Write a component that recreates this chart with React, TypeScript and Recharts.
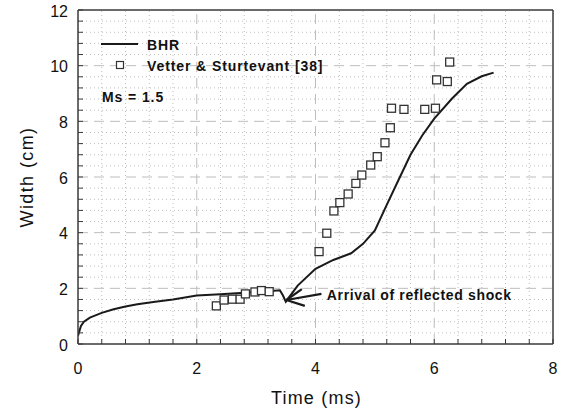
import React from "react";
import {
  ComposedChart,
  Line,
  Scatter,
  XAxis,
  YAxis,
  ReferenceLine,
  ReferenceDot,
} from "recharts";

// BHR model curve
const bhrTime = [0, 0.05, 0.1, 0.2, 0.4, 0.6, 0.8, 1.0, 1.3, 1.6, 2.0, 2.4, 2.8, 3.1, 3.4, 3.45, 3.5, 3.7, 4.0, 4.3, 4.6, 4.8, 5.0, 5.2, 5.4, 5.6, 5.8, 6.0, 6.3, 6.55, 6.8, 7.0];
const bhrWidth = [0.3, 0.65, 0.8, 0.95, 1.12, 1.25, 1.35, 1.43, 1.52, 1.6, 1.74, 1.79, 1.84, 1.88, 1.93, 1.75, 1.52, 2.1, 2.7, 3.02, 3.26, 3.6, 4.08, 5.0, 5.9, 6.8, 7.5, 8.1, 8.82, 9.35, 9.62, 9.75];

// Vetter & Sturtevant [38] measurements
const expTime = [2.33, 2.46, 2.6, 2.73, 2.82, 2.98, 3.09, 3.22, 4.06, 4.19, 4.31, 4.41, 4.55, 4.68, 4.78, 4.93, 5.04, 5.17, 5.26, 5.28, 5.49, 5.84, 6.02, 6.04, 6.22, 6.26];
const expWidth = [1.37, 1.58, 1.61, 1.61, 1.8, 1.87, 1.92, 1.88, 3.32, 3.98, 4.78, 5.08, 5.39, 5.77, 6.07, 6.43, 6.73, 7.23, 7.77, 8.47, 8.43, 8.43, 8.47, 9.49, 9.43, 10.13];

const xMajor = [0, 2, 4, 6, 8];
const yMajor = [0, 2, 4, 6, 8, 10, 12];
const xMinor = [0, 0.4, 0.8, 1.2, 1.6, 2, 2.4, 2.8, 3.2, 3.6, 4, 4.4, 4.8, 5.2, 5.6, 6, 6.4, 6.8, 7.2, 7.6, 8];
const yMinor = [0, 0.4, 0.8, 1.2, 1.6, 2, 2.4, 2.8, 3.2, 3.6, 4, 4.4, 4.8, 5.2, 5.6, 6, 6.4, 6.8, 7.2, 7.6, 8, 8.4, 8.8, 9.2, 9.6, 10, 10.4, 10.8, 11.2, 11.6, 12];

const bhrData = bhrTime.map((t, i) => ({ t, w: bhrWidth[i] }));
const expData = expTime.map((t, i) => ({ t, w: expWidth[i] }));

const FONT = "'Liberation Sans', Arial, sans-serif";
const AXIS = "#3a3a3a";
const GRID = "#bdbdbd";

const isMajor = (v: number, list: number[]) => list.includes(v);

function BottomTick({ x, y, payload }: any) {
  return (
    <g>
      <line x1={x} x2={x} y1={y} y2={y - 5} stroke={AXIS} strokeWidth={1} />
      {isMajor(payload.value, xMajor) && (
        <text x={x} y={y + 30} textAnchor="middle" fontSize={16} fontFamily={FONT} fill="#111">
          {payload.value}
        </text>
      )}
    </g>
  );
}

function TopTick({ x, y }: any) {
  return <line x1={x} x2={x} y1={y} y2={y + 5} stroke={AXIS} strokeWidth={1} />;
}

function LeftTick({ x, y, payload }: any) {
  return (
    <g>
      <line x1={x} x2={x + 5} y1={y} y2={y} stroke={AXIS} strokeWidth={1} />
      {isMajor(payload.value, yMajor) && (
        <text x={x - 10} y={y + 6.5} textAnchor="end" fontSize={16} fontFamily={FONT} fill="#111">
          {payload.value}
        </text>
      )}
    </g>
  );
}

function RightTick({ x, y }: any) {
  return <line x1={x} x2={x - 5} y1={y} y2={y} stroke={AXIS} strokeWidth={1} />;
}

function SquareShape({ cx, cy }: any) {
  return <rect x={cx - 4} y={cy - 4} width={8} height={8} fill="#fff" stroke="#333" strokeWidth={1.3} />;
}

export default function App() {
  return (
    <div style={{ position: "absolute", left: 0, top: 0, width: 568, height: 413, background: "#fff" }}>
      <ComposedChart width={568} height={413} margin={{ top: 9, right: 14, bottom: 0, left: 0 }}>
        {xMinor.filter((v) => !isMajor(v, xMajor)).map((v) => (
          <ReferenceLine key={"xm" + v} xAxisId="x" yAxisId="y" x={v} stroke={GRID} strokeWidth={1} strokeDasharray="1 3" />
        ))}
        {yMinor.filter((v) => !isMajor(v, yMajor)).map((v) => (
          <ReferenceLine key={"ym" + v} xAxisId="x" yAxisId="y" y={v} stroke={GRID} strokeWidth={1} strokeDasharray="1 3" />
        ))}
        {xMajor.slice(1, -1).map((v) => (
          <ReferenceLine key={"xM" + v} xAxisId="x" yAxisId="y" x={v} stroke={GRID} strokeWidth={1} strokeDasharray="10 6" />
        ))}
        {yMajor.slice(1, -1).map((v) => (
          <ReferenceLine key={"yM" + v} xAxisId="x" yAxisId="y" y={v} stroke={GRID} strokeWidth={1} strokeDasharray="10 6" />
        ))}

        <XAxis
          xAxisId="x"
          dataKey="t"
          type="number"
          domain={[0, 8]}
          ticks={xMinor}
          interval={0}
          allowDataOverflow
          height={69}
          tickSize={0}
          tickMargin={0}
          tick={<BottomTick />}
          axisLine={{ stroke: AXIS, strokeWidth: 1.5 }}
          label={{
            content: ({ viewBox }: any) => (
              <text x={viewBox.x + viewBox.width / 2 + 1} y={viewBox.y + 60} textAnchor="middle" fontSize={18} fontFamily={FONT} fill="#111" letterSpacing={1.2}>
                Time (ms)
              </text>
            ),
          }}
        />
        <XAxis
          xAxisId="top"
          orientation="top"
          type="number"
          domain={[0, 8]}
          ticks={xMinor}
          interval={0}
          height={1}
          tickSize={0}
          tickMargin={0}
          tick={<TopTick />}
          axisLine={{ stroke: AXIS, strokeWidth: 1.5 }}
        />
        <YAxis
          yAxisId="y"
          dataKey="w"
          type="number"
          domain={[0, 12]}
          ticks={yMinor}
          interval={0}
          allowDataOverflow
          width={78}
          tickSize={0}
          tickMargin={0}
          tick={<LeftTick />}
          axisLine={{ stroke: AXIS, strokeWidth: 1.5 }}
          label={{
            content: ({ viewBox }: any) => {
              const cx = viewBox.x + 27;
              const cy = viewBox.y + viewBox.height / 2;
              return (
                <text x={cx} y={cy} transform={`rotate(-90, ${cx}, ${cy})`} textAnchor="middle" dominantBaseline="central" fontSize={18} fontFamily={FONT} fill="#111" letterSpacing={1.4}>
                  Width (cm)
                </text>
              );
            },
          }}
        />
        <YAxis
          yAxisId="right"
          orientation="right"
          type="number"
          domain={[0, 12]}
          ticks={yMinor}
          interval={0}
          width={1}
          tickSize={0}
          tickMargin={0}
          tick={<RightTick />}
          axisLine={{ stroke: AXIS, strokeWidth: 1.5 }}
        />

        <Line
          xAxisId="x"
          yAxisId="y"
          data={bhrData}
          dataKey="w"
          type="linear"
          stroke="#1a1a1a"
          strokeWidth={2}
          dot={false}
          isAnimationActive={false}
        />
        <Scatter
          xAxisId="x"
          yAxisId="y"
          data={expData}
          dataKey="w"
          shape={<SquareShape />}
          isAnimationActive={false}
        />

        <ReferenceLine xAxisId="x" yAxisId="y" segment={[{ x: 4.1, y: 1.8 }, { x: 3.51, y: 1.58 }]} stroke="#1a1a1a" strokeWidth={2.2} />
        <ReferenceLine xAxisId="x" yAxisId="y" segment={[{ x: 3.51, y: 1.58 }, { x: 3.82, y: 1.37 }]} stroke="#1a1a1a" strokeWidth={2.2} />
        <ReferenceLine xAxisId="x" yAxisId="y" segment={[{ x: 3.51, y: 1.58 }, { x: 3.77, y: 1.97 }]} stroke="#1a1a1a" strokeWidth={2.2} />
        <ReferenceDot
          xAxisId="x"
          yAxisId="y"
          x={4.19}
          y={1.76}
          r={1}
          fill="none"
          stroke="none"
          label={{
            content: ({ viewBox }: any) => (
              <text x={viewBox.x + 1} y={viewBox.y + 6} fontSize={14} fontWeight="bold" fontFamily={FONT} fill="#111" letterSpacing={0.65}>
                Arrival of reflected shock
              </text>
            ),
          }}
        />
      </ComposedChart>

      <svg width={568} height={413} style={{ position: "absolute", left: 0, top: 0, pointerEvents: "none" }}>
        <line x1={101} x2={138} y1={44} y2={44} stroke="#1a1a1a" strokeWidth={2} />
        <text x={147} y={50} fontSize={14} fontWeight="bold" fontFamily={FONT} fill="#111" letterSpacing={0.9}>
          BHR
        </text>
        <rect x={116.5} y={61.5} width={7} height={7} fill="#fff" stroke="#333" strokeWidth={1.2} />
        <text x={147} y={71} fontSize={14} fontWeight="bold" fontFamily={FONT} fill="#111" letterSpacing={0.9}>
          Vetter &amp; Sturtevant [38]
        </text>
        <text x={102} y={102} fontSize={14} fontWeight="bold" fontFamily={FONT} fill="#111" letterSpacing={0.9}>
          Ms = 1.5
        </text>
      </svg>
    </div>
  );
}
